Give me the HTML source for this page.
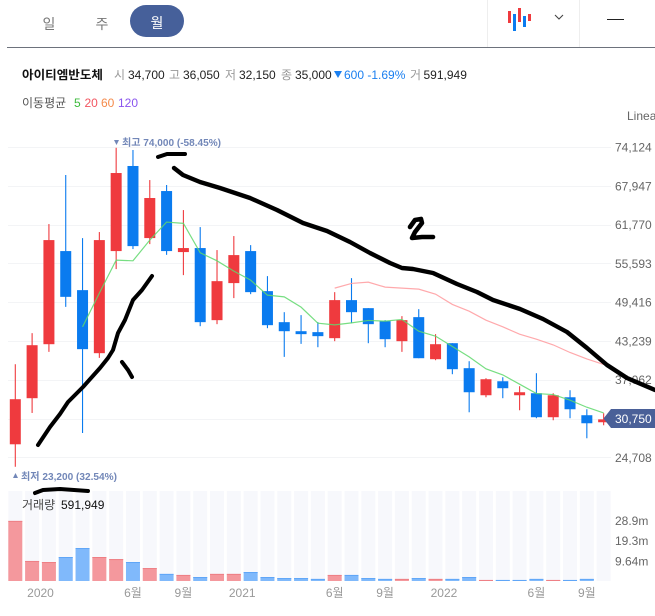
<!DOCTYPE html>
<html lang="ko">
<head>
<meta charset="utf-8">
<title>아이티엠반도체 월봉 차트</title>
<style>
  html, body { margin: 0; padding: 0; background: #fff; }
  body { width: 655px; height: 616px; overflow: hidden; }
  svg { display: block; font-family: "Liberation Sans", "Noto Sans CJK KR", sans-serif; }
  text { white-space: pre; }
</style>
</head>
<body>
<svg id="chart" width="655" height="616" viewBox="0 0 655 616" xmlns="http://www.w3.org/2000/svg">
  <rect x="0" y="0" width="655" height="616" fill="#ffffff"/>

  <!-- Toolbar -->
  <g>
    <text x="49" y="29" font-size="14" fill="#777" text-anchor="middle">일</text>
    <text x="102" y="29" font-size="14" fill="#777" text-anchor="middle">주</text>
    <rect x="130" y="5" width="54" height="32" rx="16" fill="#46609a"/>
    <text x="157" y="28" font-size="14" fill="#fff" text-anchor="middle">월</text>
    <line x1="7" y1="47.5" x2="655" y2="47.5" stroke="#6d727c" stroke-width="1"/>
    <line x1="487.5" y1="0" x2="487.5" y2="47" stroke="#eeeeee"/>
    <line x1="579.5" y1="0" x2="579.5" y2="47" stroke="#eeeeee"/>
    <g>
      <rect x="508" y="11" width="3" height="12" fill="#ef3a3e"/>
      <rect x="513" y="14" width="3" height="17" fill="#0a7bef"/>
      <rect x="518" y="8" width="3" height="14" fill="#ef3a3e"/>
      <rect x="523" y="16" width="3" height="11" fill="#0a7bef"/>
      <rect x="528" y="14" width="3" height="7" fill="#ef3a3e"/>
    </g>
    <path d="M555 15 L559 19 L563 15" fill="none" stroke="#444" stroke-width="1.1"/>
    <line x1="607" y1="19.5" x2="624" y2="19.5" stroke="#222" stroke-width="1"/>
  </g>

  <!-- Info rows -->
  <g font-size="12" fill="#222">
    <text x="22" y="79" font-weight="700" fill="#111" textLength="81" lengthAdjust="spacingAndGlyphs">아이티엠반도체</text>
    <text x="114" y="79" fill="#999">시</text>
    <text x="128" y="79">34,700</text>
    <text x="169" y="79" fill="#999">고</text>
    <text x="183" y="79">36,050</text>
    <text x="225" y="79" fill="#999">저</text>
    <text x="239" y="79">32,150</text>
    <text x="281" y="79" fill="#999">종</text>
    <text x="295" y="79">35,000</text>
    <path d="M334 71 L342 71 L338 78 Z" fill="#1a7ff0"/>
    <text x="344" y="79" fill="#1a7ff0">600 -1.69%</text>
    <text x="410" y="79" fill="#999">거</text>
    <text x="423.5" y="79">591,949</text>
  </g>
  <g font-size="12">
    <text x="22" y="107" fill="#555">이동평균</text>
    <text x="74" y="107" fill="#3dbb3d">5</text>
    <text x="84.5" y="107" fill="#f25560">20</text>
    <text x="101" y="107" fill="#f58a4a">60</text>
    <text x="118" y="107" fill="#8a55ee">120</text>
  </g>
  <text x="627" y="120" font-size="12" fill="#666">Linear</text>

  <g id="grid"></g>
  <g id="volBack"></g>
  <g id="volBars"></g>
  <g id="candles"></g>
  <g id="lines"></g>
  <g id="yTicks" font-size="12" fill="#666"></g>
  <g id="volTicks" font-size="12" fill="#666"></g>
  <g id="xTicks" font-size="12" fill="#999"></g>

  <!-- Extremes -->
  <g font-size="10" font-weight="700" fill="#7287b8">
    <path d="M114 140 L119 140 L116.5 145 Z" fill="#7287b8"/>
    <text x="122" y="146" textLength="99" lengthAdjust="spacingAndGlyphs">최고 74,000 (-58.45%)</text>
  </g>
  <g font-size="10" font-weight="700" fill="#7287b8">
    <path d="M13 478 L18 478 L15.5 473 Z" fill="#7287b8"/>
    <text x="21" y="480" textLength="96" lengthAdjust="spacingAndGlyphs">최저 23,200 (32.54%)</text>
  </g>

  <g font-size="12">
    <text x="22" y="509" fill="#444">거래량</text>
    <text x="61" y="509" fill="#111">591,949</text>
  </g>

  <!-- Current price tag -->
  <g>
    <path d="M603.5 418.5 L611 409 L655 409 L655 428 L611 428 Z" fill="#4a6098"/>
    <text x="615" y="423" font-size="12" fill="#fff">30,750</text>
  </g>

  <!-- Handwritten annotations -->
  <g fill="none" stroke="#000" stroke-width="4" stroke-linecap="round" stroke-linejoin="round">
    <path d="M38 445 L50 427 L60 414 L68 402 L83 387 L100 368 L108 358 L113 350 L118 333 L125 320 L133 300 L142 290 L152 276"/>
    <path d="M122 362 L128 370 L132 377"/>
    <path d="M158 157 L167 154 L185 154"/>
    <path stroke-width="4.4" d="M174 168 L183 175 L200 182 L220 188 L250 198 L277 210 L287 215 L303 223 L327 231 L350 242 L370 253 L390 263 L402 268 L413 269 L433 273 L457 284 L477 292 L493 300 L520 309 L543 319 L567 332 L587 348 L607 365 L627 378 L655 390"/>
    <path stroke-width="4.6" d="M410 227 L415 220 L421 219 L422 223 L415 232 L412 238 L422 237 L433 237"/>
    <path d="M35 493 L43 490 L60 489 L88 491"/>
  </g>
</svg>

<script>
// ---- Data ----
const opens  = [26780,34120,42720,57550,51330,41290,57550,71100,59620,67110,57390,58030,46550,52450,57550,51170,46230,44790,44640,43680,49740,48460,46390,43200,47030,40330,42880,38900,34590,36820,34590,34910,31090,34270,31410,30290];
const highs  = [39530,44480,61850,69660,59620,60580,74000,73650,68860,68070,64080,61370,57710,59940,58500,53560,47820,47350,46230,51010,53240,48460,46550,47190,48300,44320,42880,40010,37300,37460,36030,38100,34910,35390,32360,31720];
const lows   = [23200,31770,41500,48670,28580,40540,54680,57870,58660,56950,53720,45590,45910,50060,50690,45270,40700,42770,42240,43200,46070,42880,42240,41500,40490,40170,37940,31880,34270,34120,32200,30930,30610,30930,27740,29810];
const closes = [33960,42560,59300,50260,41930,59300,69980,58340,66000,57550,58030,46230,52760,56910,51010,45750,44790,44320,44000,49740,47820,45910,43520,46550,40490,42720,38740,35070,37140,35710,35070,31090,34590,32360,30130,30750];

const ma5Start = 4;
const ma5 = [45480,50850,56110,56000,59300,62170,61960,57280,56000,54360,52920,50530,50260,48620,46070,45800,46120,46500,46390,46660,44790,44000,42360,40700,38790,37830,36350,34860,34700,33800,32680,31770];
const ma20Start = 19;
const ma20 = [51650,52400,52600,51810,51650,51490,50690,49050,47980,46550,45480,44320,43520,42610,41400,40380,39490];

const volumes = [28.8,9.6,9.1,11.5,15.8,11.5,10.5,9.1,6.2,3.4,2.9,1.9,3.4,3.4,4.3,1.9,1.4,1.4,1.0,2.9,2.9,1.4,1.0,1.0,1.4,1.0,1.0,1.9,0.5,0.5,0.5,1.0,0.5,0.5,1.0,0];
const volumeUp = [1,1,1,0,0,1,1,0,1,0,1,0,1,1,0,0,0,0,0,1,0,0,0,1,0,1,0,0,1,0,0,0,1,0,0,1];

const priceTicks = [74124,67947,61770,55593,49416,43239,37062,30885,24708];
const priceTickLabels = ['74,124','67,947','61,770','55,593','49,416','43,239','37,062','','24,708'];
const volumeTicks = [28.9,19.3,9.64];
const volumeTickLabels = ['28.9m','19.3m','9.64m'];
const timeTickSlots = [1.5,7,10,13.5,19,22,25.5,31,34];
const timeTickLabels = ['2020','6월','9월','2021','6월','9월','2022','6월','9월'];

// ---- Axis functions ----
const NS = 'http://www.w3.org/2000/svg';
const xAt = i => 15.3 + 16.81 * i;
const yPrice = v => 147 + (74124 - v) * (310.3 / 49416);
const yVol = v => 581 - v * (60.3 / 28.9);

function svgEl(tag, parent, attrs) {
  const el = document.createElementNS(NS, tag);
  for (const k in attrs) el.setAttribute(k, attrs[k]);
  parent.appendChild(el);
  return el;
}

const RED = '#ef3a3e', BLUE = '#0a7bef';

// Grid
const gridG = document.getElementById('grid');
priceTicks.forEach(function (t) {
  const yy = Math.round(yPrice(t)) + 0.5;
  const el = svgEl('line', gridG, { x1: 8, x2: 611, y1: yy, y2: yy, stroke: '#f3f4f6', 'stroke-width': 1 });
  
  
});

// Price ticks
const yG = document.getElementById('yTicks');
priceTicks.forEach(function (t, i) {
  if (!priceTickLabels[i]) return;
  const el = svgEl('text', yG, { x: 615, y: yPrice(t) + 4.5 });
  el.textContent = priceTickLabels[i];
  
  
});

// Volume backdrop and bars
const backG = document.getElementById('volBack');
const barG = document.getElementById('volBars');
volumes.forEach(function (v, i) {
  const cx = xAt(i);
  const back = svgEl('rect', backG, { x: cx - 7, y: 491, width: 14, height: 90, fill: '#f7f8fc' });
  
  
  const top = yVol(v);
  const h = 581 - top;
  if (h <= 0) return;
  const up = volumeUp[i] === 1;
  const bar = svgEl('rect', barG, { x: cx - 7, y: top, width: 14, height: h, fill: up ? '#f4989d' : '#80b9fb' });
  
  
  const cap = svgEl('rect', barG, { x: cx - 7, y: top, width: 14, height: 1, fill: up ? '#ee7f85' : '#5fa6f7' });
  
  
});

// Volume ticks
const vG = document.getElementById('volTicks');
volumeTicks.forEach(function (t, i) {
  const el = svgEl('text', vG, { x: 615, y: yVol(t) + 4.5 });
  el.textContent = volumeTickLabels[i];
  
  
});

// Time ticks
const xG = document.getElementById('xTicks');
timeTickSlots.forEach(function (s, i) {
  const el = svgEl('text', xG, { x: xAt(s), y: 597, 'text-anchor': 'middle' });
  el.textContent = timeTickLabels[i];
  
  
});

// Candles
const cG = document.getElementById('candles');
opens.forEach(function (o, i) {
  const c = closes[i];
  const color = c >= o ? RED : BLUE;
  const cx = xAt(i);
  const wick = svgEl('line', cG, { x1: cx, x2: cx, y1: yPrice(highs[i]), y2: yPrice(lows[i]), stroke: color, 'stroke-width': 1.1 });
  
  
  const top = yPrice(Math.max(o, c));
  const bot = yPrice(Math.min(o, c));
  const body = svgEl('rect', cG, { x: cx - 5.5, y: top, width: 11, height: Math.max(bot - top, 1), fill: color });
  
  
});

// Moving averages
const lG = document.getElementById('lines');
const ma5Points = ma5.map(function (v, i) { return xAt(i + ma5Start) + ',' + yPrice(v); }).join(' ');
const ma20Points = ma20.map(function (v, i) { return xAt(i + ma20Start) + ',' + yPrice(v); }).join(' ');
const ma20Line = svgEl('polyline', lG, { points: ma20Points, fill: 'none', stroke: '#ff9a9e', 'stroke-width': 1.2, opacity: 0.85 });


const ma5Line = svgEl('polyline', lG, { points: ma5Points, fill: 'none', stroke: '#5fd86c', 'stroke-width': 1.2, opacity: 0.85 });


</script>
</body>
</html>
